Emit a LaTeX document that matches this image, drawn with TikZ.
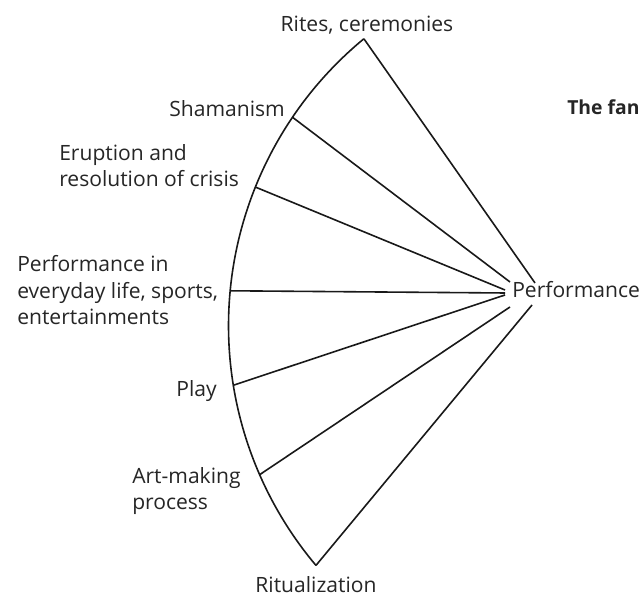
\documentclass[tikz,border=0pt]{standalone}
\usepackage{fontspec}
\setmainfont{Open Sans}
\usetikzlibrary{calc}
\begin{document}
\begin{tikzpicture}[x=0.75pt,y=0.75pt,
  fanline/.style={line width=1.2pt, black!90},
  lbl/.style={inner sep=0pt, font=\fontsize{15.8}{20}\selectfont, text=black!85},
  lblml/.style={lbl, align=left}]
\useasboundingbox (0,0) rectangle (642,598);
\fill[white] (0,0) rectangle (642,598);

% centre and radius of the fan's outer arc
\coordinate (ctr) at (600.5,272.2);
\def\rad{372}

% points where the spokes meet the arc
\coordinate (aTop)   at ($(ctr)+(129.5:\rad)$);
\coordinate (aSham)  at ($(ctr)+(145.9:\rad)$);
\coordinate (aErup)  at ($(ctr)+(158.1:\rad)$);
\coordinate (aLife)  at ($(ctr)+(174.6:\rad)$);
\coordinate (aPlay)  at ($(ctr)+(189.2:\rad)$);
\coordinate (aArt)   at ($(ctr)+(203.6:\rad)$);
\coordinate (aBot)   at ($(ctr)+(220.1:\rad)$);

% inner ends of the spokes, around the word "Performance"
\coordinate (pTop)  at (535,315);
\coordinate (pSham) at (510,316);
\coordinate (pErup) at (505,308);
\coordinate (pLife) at (505,305);
\coordinate (pPlay) at (505,303);
\coordinate (pArt)  at (510,291);
\coordinate (pBot)  at (532,293);

% outer arc
\draw[fanline] (aTop) arc[start angle=129.5, end angle=220.1, radius=\rad];

% spokes
\draw[fanline] (aTop)  -- (pTop);
\draw[fanline] (aSham) -- (pSham);
\draw[fanline] (aErup) -- (pErup);
\draw[fanline] (aLife) -- (pLife);
\draw[fanline] (aPlay) -- (pPlay);
\draw[fanline] (aArt)  -- (pArt);
\draw[fanline] (aBot)  -- (pBot);

% labels (multi-line labels are placed by the baseline of their last line)
\node[lbl, anchor=base] (rites) at (367,566) {Rites, ceremonies};
\node[lbl, anchor=base east] (sham) at (285,481) {Shamanism};
\node[lblml, anchor=base west] (erup) at (59,411) {Eruption and\\resolution of crisis};
\node[lblml, anchor=base west] (life) at (17,273) {Performance in\\everyday life, sports,\\entertainments};
\node[lbl, anchor=base east] (play) at (217,201) {Play};
\node[lblml, anchor=base west] (art) at (132,88) {Art-making\\process};
\node[lbl, anchor=base] (ritual) at (316,5) {Ritualization};
\node[lbl, anchor=base west] (perf) at (512,300) {Performance};
\node[lbl, anchor=base west, font=\fontsize{14.5}{20}\selectfont\bfseries] (title) at (567,483) {The fan};
\end{tikzpicture}
\end{document}
